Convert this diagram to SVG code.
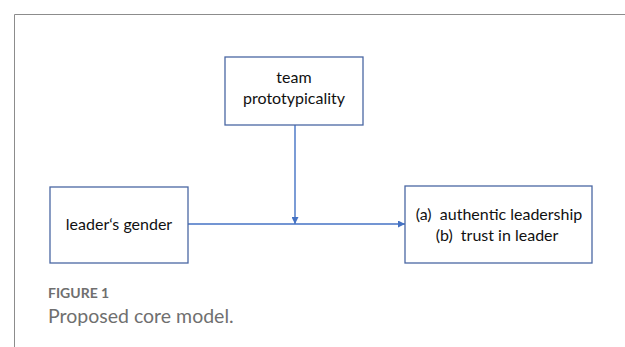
<svg xmlns="http://www.w3.org/2000/svg" width="625" height="347" viewBox="0 0 625 347">
<style>
.box{fill:#fff;stroke:#4a67a3;stroke-width:1.3}
.t{font-family:Lato,"Liberation Sans",sans-serif;font-size:16px;fill:#111;text-anchor:middle;white-space:pre}
.c{stroke:#4472c4;stroke-width:1.4;fill:none}
.cap1{font-family:Lato,"Open Sans",sans-serif;font-weight:bold;font-size:14px;fill:#6f6f6f}
.cap2{font-family:Lato,"Open Sans",sans-serif;font-size:19.5px;fill:#6f6f6f}
</style>
<defs>
<marker id="ah" viewBox="0 0 10 10" refX="10" refY="5" markerWidth="5" markerHeight="5" orient="auto" markerUnits="strokeWidth">
<path d="M0,0 L10,5 L0,10 z" fill="#4472c4"/>
</marker>
</defs>
<rect width="625" height="347" fill="#fff"/>
<path d="M14.5,347 V14.5 H625" stroke="#8c8c8c" stroke-width="1" fill="none"/>
<g id="connectors">
<path class="c" d="M188,224 H405" marker-end="url(#ah)"/>
<path class="c" d="M295,125 V224" marker-end="url(#ah)"/>
</g>
<g id="moderator">
<rect class="box" x="225" y="57" width="138" height="68"/>
<text class="t" x="294" y="83">team</text>
<text class="t" x="294" y="104">prototypicality</text>
</g>
<g id="predictor">
<rect class="box" x="50" y="187" width="138" height="76"/>
<text class="t" x="119" y="230">leader‘s gender</text>
</g>
<g id="outcome">
<rect class="box" x="405" y="186" width="187" height="77"/>
<text class="t" x="499" y="220">(a)  authentic leadership</text>
<text class="t" x="497" y="241">(b)  trust in leader</text>
</g>
<text class="cap1" x="48" y="298">FIGURE 1</text>
<text class="cap2" x="48" y="323">Proposed core model.</text>
</svg>
